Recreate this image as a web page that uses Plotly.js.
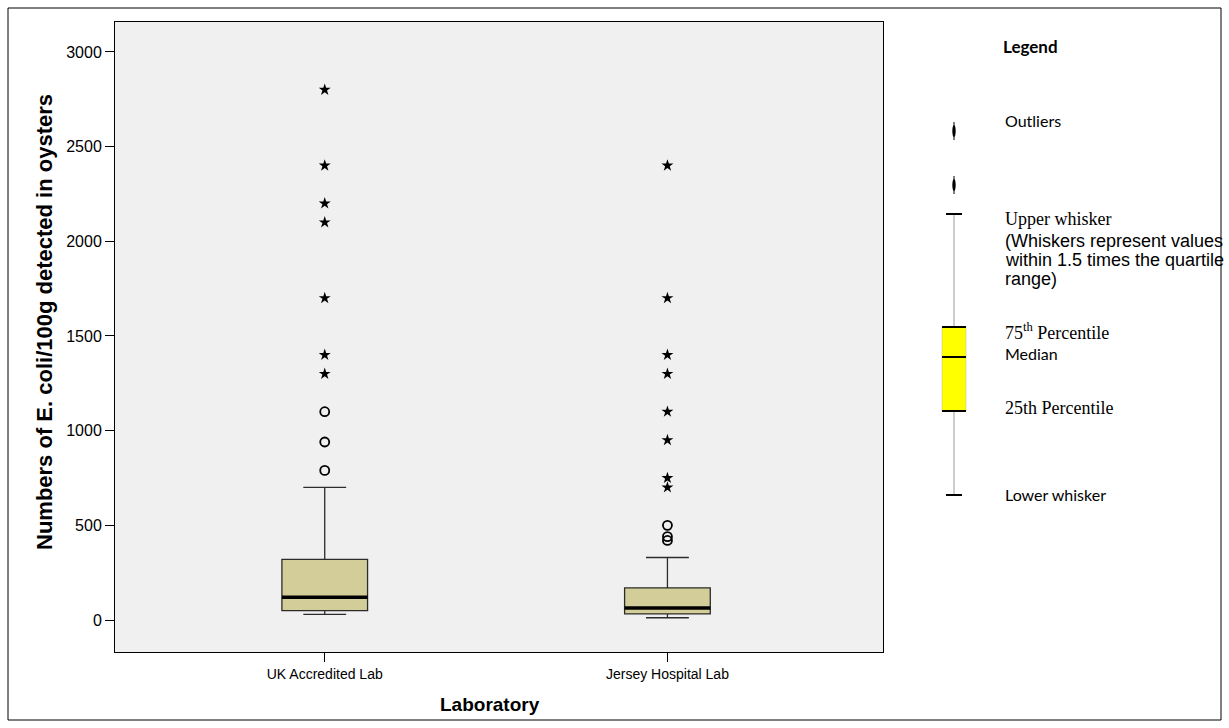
<!DOCTYPE html>
<html>
<head>
<meta charset="utf-8">
<script src="https://cdn.plot.ly/plotly-3.0.1.min.js"></script>
<style>html,body{margin:0;padding:0;background:#fff;}#chart{width:1229px;height:728px;}</style>
</head>
<body>
<div id="chart"></div>
<script>
// ---- data ----
const categories = ['UK Accredited Lab', 'Jersey Hospital Lab'];
const lowerWhisker = [30, 12];
const q1 = [50, 32];
const median = [120, 63];
const q3 = [320, 170];
const upperWhisker = [700, 330];
// outliers (circles) and extreme values (stars)
const ukOutliers = [1100, 940, 790];
const ukExtremes = [2800, 2400, 2200, 2100, 1700, 1400, 1300];
const jerseyOutliers = [500, 440, 420];
const jerseyExtremes = [2400, 1700, 1400, 1300, 1100, 950, 750, 700];
const yTicks = [0, 500, 1000, 1500, 2000, 2500, 3000];

// ---- layout geometry (pixels) ----
const W = 1229, H = 728, L = 115, R = 883, T = 22, B = 652;
const px = x => (x - L) / (R - L);
const py = y => (B - y) / (B - T);
const boxWidth = 0.25;

const traces = [
  {
    type: 'box', x: categories, q1: q1, median: median, q3: q3,
    lowerfence: lowerWhisker, upperfence: upperWhisker,
    boxpoints: false, width: boxWidth, whiskerwidth: 0.5,
    fillcolor: '#D3CE99', line: {color: '#2b2b2b', width: 1.3},
    showlegend: false, hoverinfo: 'skip'
  },
  {
    type: 'scatter', mode: 'markers',
    x: ukOutliers.map(() => categories[0]).concat(jerseyOutliers.map(() => categories[1])),
    y: ukOutliers.concat(jerseyOutliers),
    marker: {symbol: 'circle-open', size: 9, color: '#000', line: {width: 1.8, color: '#000'}},
    showlegend: false, hoverinfo: 'skip'
  },
  {
    type: 'scatter', mode: 'markers',
    x: ukExtremes.map(() => categories[0]).concat(jerseyExtremes.map(() => categories[1])),
    y: ukExtremes.concat(jerseyExtremes),
    marker: {symbol: 'star', size: 9, color: '#000', line: {width: 0}},
    showlegend: false, hoverinfo: 'skip'
  }
];

const shapes = [];
// thick median lines
median.forEach((m, i) => {
  shapes.push({type: 'line', xref: 'x', yref: 'y', x0: i - boxWidth / 2, x1: i + boxWidth / 2,
    y0: m, y1: m, line: {color: '#000', width: 3.5}});
});
// outer frame
shapes.push({type: 'rect', xref: 'paper', yref: 'paper', x0: px(8), x1: px(1221), y0: py(8), y1: py(720),
  line: {color: '#000', width: 1}, fillcolor: 'rgba(0,0,0,0)', layer: 'below'});
// legend drawing
const lx = 954;
shapes.push({type: 'line', xref: 'paper', yref: 'paper', x0: px(lx), x1: px(lx), y0: py(214), y1: py(495),
  line: {color: '#bdbdbd', width: 1.5}});
shapes.push({type: 'rect', xref: 'paper', yref: 'paper', x0: px(942), x1: px(966), y0: py(327), y1: py(411),
  fillcolor: '#FFFF00', line: {color: '#c9c98a', width: 0.6}});
[327, 357, 411].forEach(yy => shapes.push({type: 'line', xref: 'paper', yref: 'paper', x0: px(942), x1: px(966),
  y0: py(yy), y1: py(yy), line: {color: '#000', width: 2}}));
[214, 495].forEach(yy => shapes.push({type: 'line', xref: 'paper', yref: 'paper', x0: px(946), x1: px(962),
  y0: py(yy), y1: py(yy), line: {color: '#000', width: 2}}));
[131, 185].forEach(yy => {
  shapes.push({type: 'line', xref: 'paper', yref: 'paper', x0: px(lx), x1: px(lx), y0: py(yy - 9), y1: py(yy + 9),
    line: {color: '#000', width: 1}});
  shapes.push({type: 'circle', xref: 'paper', yref: 'paper', x0: px(lx - 1.7), x1: px(lx + 1.7), y0: py(yy - 6), y1: py(yy + 6),
    fillcolor: '#000', line: {color: '#000', width: 0}});
});

const ann = (text, x, y, font, opts) => Object.assign({text: text, xref: 'paper', yref: 'paper', x: px(x), y: py(y),
  xanchor: 'left', yanchor: 'middle', showarrow: false, font: Object.assign({color: '#000'}, font)}, opts || {});
const sans = {family: 'Lato, "Open Sans", sans-serif', size: 16};
const serif = {family: '"Liberation Serif", "DejaVu Serif", serif', size: 18};
const arial = {family: '"Liberation Sans", Arial, sans-serif', size: 18};
const annotations = [
  ann('<b>Legend</b>', 1001, 47, {family: 'Lato, "Open Sans", sans-serif', size: 17}),
  ann('Outliers', 1003, 120, sans),
  ann('Upper whisker', 1003, 219, serif),
  ann('(Whiskers represent values', 1003, 241, arial),
  ann('within 1.5 times the quartile', 1003, 260, arial),
  ann('range)', 1003, 279, arial),
  ann('75<sup>th</sup> Percentile', 1003, 331, serif),
  ann('Median', 1003, 353, sans),
  ann('25th Percentile', 1003, 408, serif),
  ann('Lower whisker', 1003, 494, sans),
  ann('<b>Laboratory</b>', 490, 704, {family: '"Liberation Sans", Arial, sans-serif', size: 19}, {xanchor: 'center'}),
  ann('<b>Numbers of E. coli/100g detected in oysters</b>', 44, 322,
    {family: '"Liberation Sans", Arial, sans-serif', size: 22}, {xanchor: 'center', textangle: -90})
];

const layout = {
  width: W, height: H,
  margin: {l: L, r: W - R, t: T, b: H - B, pad: 0},
  paper_bgcolor: '#ffffff', plot_bgcolor: '#F0F0F0',
  showlegend: false,
  xaxis: {
    type: 'category', range: [-0.612, 1.629],
    showline: true, linecolor: '#000', linewidth: 1, mirror: true,
    ticks: 'outside', ticklen: 9, tickcolor: '#000', tickwidth: 1,
    showgrid: false, zeroline: false,
    tickfont: {family: '"Liberation Sans", Arial, sans-serif', size: 14, color: '#000'}
  },
  yaxis: {
    range: [-169, 3158], tickvals: yTicks,
    showline: true, linecolor: '#000', linewidth: 1, mirror: true,
    ticks: 'outside', ticklen: 9, tickcolor: '#000', tickwidth: 1,
    showgrid: false, zeroline: false,
    tickfont: {family: '"Liberation Sans", Arial, sans-serif', size: 16, color: '#000'}
  },
  shapes: shapes,
  annotations: annotations
};

Plotly.newPlot('chart', traces, layout, {displayModeBar: false, staticPlot: true});
</script>
</body>
</html>
